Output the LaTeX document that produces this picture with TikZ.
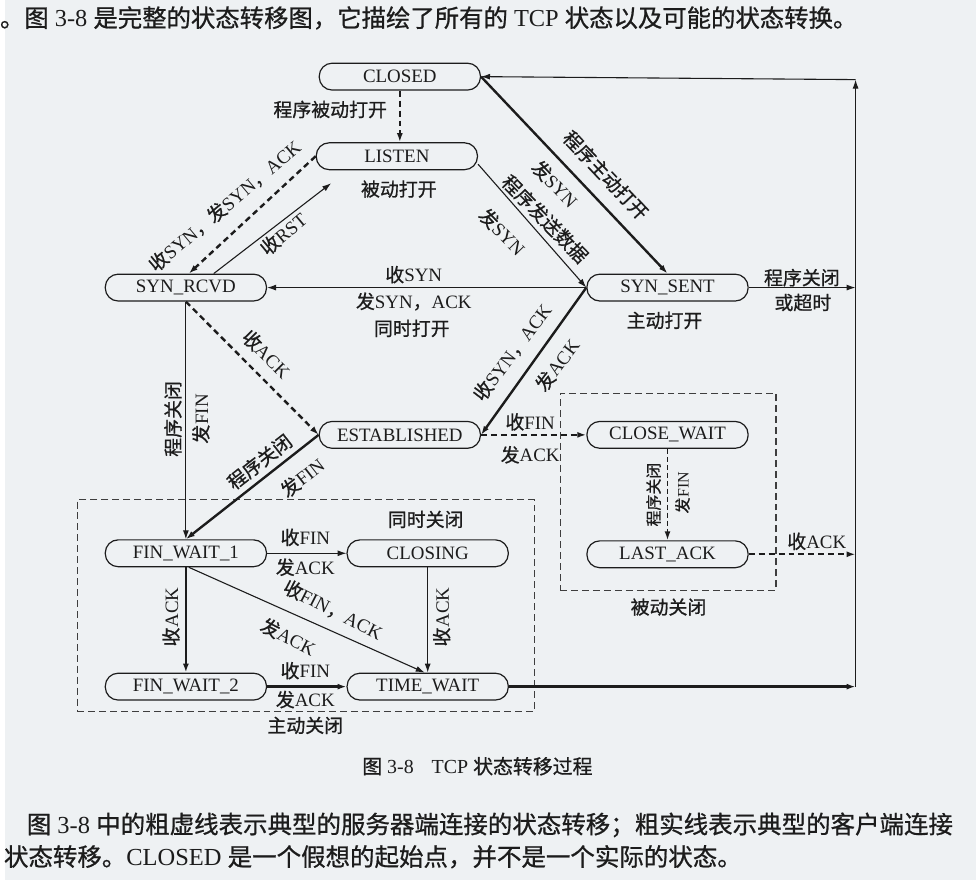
\documentclass[tikz,border=0pt]{standalone}
\usepackage{fontspec}
\setmainfont{Liberation Serif}
\newfontfamily\cjk[FakeBold=0.8]{Noto Sans CJK SC}
\usetikzlibrary{arrows.meta}
\newcommand\zh[1]{{\cjk #1}}
\definecolor{paper}{RGB}{238,241,243}
\definecolor{ink}{RGB}{28,28,28}

\begin{document}
\begin{tikzpicture}[x=1pt,y=-1pt,
  state/.style={draw=ink, line width=1.2pt, rounded corners=13pt,
    minimum width=162pt, minimum height=27pt, inner sep=0pt, text=ink,
    font=\fontsize{19}{20}\selectfont},
  lbl/.style={inner sep=0pt, text=ink, font=\fontsize{19}{20}\selectfont},
  small/.style={inner sep=0pt, text=ink, font=\fontsize{16}{18}\selectfont},
  body/.style={inner sep=0pt, text=ink, anchor=west, font=\fontsize{24.5}{26}\selectfont},
  tipd/.style={-{Latex[length=9pt,width=6pt]}},
  tr/.style={draw=ink, line width=1.1pt, tipd},
  client/.style={tr, line width=2.4pt},
  server/.style={tr, line width=2.4pt, dash pattern=on 6pt off 4pt},
  groupbox/.style={draw=ink!85, line width=1.1pt, dash pattern=on 7pt off 4pt, inner sep=0pt}
]
\path[fill=paper] (0,0) rectangle (976,884);

% running text above the figure
\node[body] (intro) at (-5,18)
  {\zh{。图} 3-8 \zh{是完整的状态转移图，它描绘了所有的} TCP \zh{状态以及可能的状态转换。}};

% grouping frames
\node[groupbox, minimum width=459pt, minimum height=213pt] (activebox) at (302.5,608.5) {};
\node[groupbox, minimum width=217pt, minimum height=198pt] (passivebox) at (666.5,494) {};

% states
\node[state] (closed)    at (397,77)  {CLOSED};
\node[state] (listen)    at (394,157) {LISTEN};
\node[state] (synrcvd)   at (182,289) {SYN\_RCVD};
\node[state] (synsent)   at (666,289) {SYN\_SENT};
\node[state] (estab)     at (397,437) {ESTABLISHED};
\node[state] (closewait) at (666,437) {CLOSE\_WAIT};
\node[state] (lastack)   at (666,557) {LAST\_ACK};
\node[state] (fw1)       at (182,556) {FIN\_WAIT\_1};
\node[state] (closing)   at (425,556) {CLOSING};
\node[state] (fw2)       at (182,690) {FIN\_WAIT\_2};
\node[state] (timewait)  at (425,690) {TIME\_WAIT};

% return path on the right
\coordinate (rb) at (855,690);
\coordinate (rt) at (855,80);
\coordinate (rs) at (855,289);
\coordinate (rl) at (855,557);

% transitions
\draw[server] (closed.south) -- (closed.south |- listen.north);
\draw[client] (closed.east) -- (synsent.north);
\draw[tr] ([yshift=-8pt]listen.east) -- (synsent.west);
\draw[server] (listen.west) -- ([xshift=3pt]synrcvd.north);
\draw[tr] ([xshift=28pt]synrcvd.north) -- ([xshift=-66pt,yshift=-13pt]listen.south);
\draw[tr] (synsent.west) -- (synrcvd.east);
\draw[client] (synsent.west) -- (estab.east);
\draw[server] (synrcvd.south) -- (estab.west);
\draw[tr] (synrcvd.south) -- (fw1.north);
\draw[client] (estab.west) -- (fw1.north);
\draw[server] (estab.east) -- (closewait.west);
\draw[tr, line width=1.6pt, dash pattern=on 5pt off 3pt] (closewait.south) -- (lastack.north);
\draw[server] (lastack.east) -- (rl);
\draw[tr] (synsent.east) -- (rs);
\draw[tr] (fw1.east) -- (closing.west);
\draw[client] (fw1.south) -- (fw2.north);
\draw[tr] ([xshift=3pt]fw1.south) -- ([xshift=-3pt]timewait.north);
\draw[tr] (closing.south) -- (timewait.north);
\draw[client] (fw2.east) -- (timewait.west);
\draw[client] (timewait.east) -- (rb);
\draw[tr] (rb) -- (rt);
\draw[tr] (rt) -- (closed.east);

% transition labels
\node[lbl] (t1) at (327,110) {\zh{程序被动打开}};
\node[lbl] (d1) at (396,190) {\zh{被动打开}};
\node[lbl, rotate=-46.5] (t2a) at (604,176) {\zh{程序主动打开}};
\node[lbl, rotate=-46.5] (t2b) at (553,185) {\zh{发}SYN};
\node[lbl, rotate=-45.7] (t3a) at (543,220) {\zh{程序发送数据}};
\node[lbl, rotate=-45.7] (t3b) at (500,233) {\zh{发}SYN};
\node[lbl, rotate=40] (t4) at (221,207) {\zh{收}SYN\zh{，发}SYN\zh{，}ACK};
\node[lbl, rotate=40] (t5) at (280,235) {\zh{收}RST};
\node[lbl] (t6a) at (411,276) {\zh{收}SYN};
\node[lbl] (t6b) at (411,303) {\zh{发}SYN\zh{，}ACK};
\node[lbl] (d6)  at (409,330) {\zh{同时打开}};
\node[lbl] (d2)  at (663,322) {\zh{主动打开}};
\node[lbl] (t7a) at (801,279) {\zh{程序关闭}};
\node[lbl] (t7b) at (802,304) {\zh{或超时}};
\node[lbl, rotate=53] (t8a) at (510,354) {\zh{收}SYN\zh{，}ACK};
\node[lbl, rotate=53] (t8b) at (555,367) {\zh{发}ACK};
\node[lbl, rotate=-45] (t9) at (263,356) {\zh{收}ACK};
\node[lbl, rotate=90] (t10a) at (169,421) {\zh{程序关闭}};
\node[lbl, rotate=90] (t10b) at (197,421) {\zh{发}FIN};
\node[lbl, rotate=38] (t11a) at (256,464) {\zh{程序关闭}};
\node[lbl, rotate=38] (t11b) at (299,480) {\zh{发}FIN};
\node[lbl] (t12a) at (528,424) {\zh{收}FIN};
\node[lbl] (t12b) at (528,457) {\zh{发}ACK};
\node[small, rotate=90] (t13a) at (652,497) {\zh{程序关闭}};
\node[small, rotate=90] (t13b) at (681,495) {\zh{发}FIN};
\node[lbl] (t14) at (816,544) {\zh{收}ACK};
\node[lbl] (d3)  at (667,610) {\zh{被动关闭}};
\node[lbl] (t15a) at (302,540) {\zh{收}FIN};
\node[lbl] (t15b) at (302,570) {\zh{发}ACK};
\node[lbl] (d4)  at (423,522) {\zh{同时关闭}};
\node[lbl, rotate=90] (t16) at (167,620) {\zh{收}ACK};
\node[lbl, rotate=-27] (t17a) at (330,613) {\zh{收}FIN\zh{，}ACK};
\node[lbl, rotate=-27] (t17b) at (285,640) {\zh{发}ACK};
\node[lbl, rotate=90] (t18) at (439,620) {\zh{收}ACK};
\node[lbl] (t19a) at (302,674) {\zh{收}FIN};
\node[lbl] (t19b) at (302,703) {\zh{发}ACK};
\node[lbl] (d5)  at (302,729) {\zh{主动关闭}};

% caption and running text below the figure
\node[lbl, font=\fontsize{20}{22}\selectfont] (caption) at (475,770)
  {\zh{图} 3-8\hspace{18pt}TCP \zh{状态转移过程}};
\node[body, font=\fontsize{24.6}{26}\selectfont] (para1) at (22,829)
  {\zh{图} 3-8 \zh{中的粗虚线表示典型的服务器端连接的状态转移；粗实线表示典型的客户端连接}};
\node[body, font=\fontsize{24.6}{26}\selectfont] (para2) at (-1,861)
  {\zh{状态转移。}CLOSED \zh{是一个假想的起始点，并不是一个实际的状态。}};
\end{tikzpicture}
\end{document}
